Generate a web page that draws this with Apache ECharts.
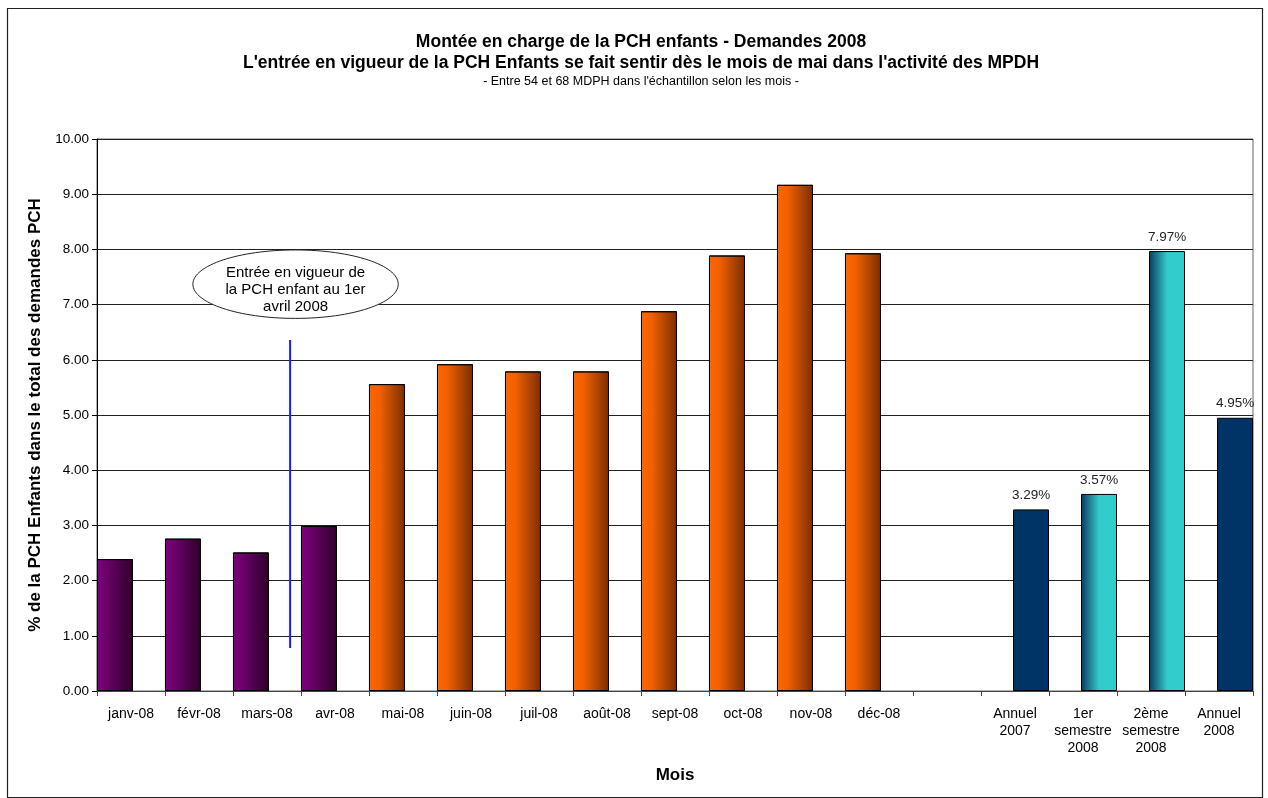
<!DOCTYPE html>
<html>
<head>
<meta charset="utf-8">
<script src="https://cdn.jsdelivr.net/npm/echarts@6/dist/echarts.min.js"></script>
<style>
html,body{margin:0;padding:0;background:#fff;}
#chart{width:1268px;height:798px;}
</style>
</head>
<body>
<div id="chart"></div>
<script>
// ---- data ----
var categories = ['janv-08','févr-08','mars-08','avr-08','mai-08','juin-08','juil-08','août-08','sept-08','oct-08','nov-08','déc-08','','Annuel\n2007','1er\nsemestre\n2008','2ème\nsemestre\n2008','Annuel\n2008'];
var monthlyValues = [2.39,2.76,2.51,2.99,5.56,5.92,5.79,5.79,6.88,7.89,9.17,7.93,null,null,null,null,null];
var summaryValues = [null,null,null,null,null,null,null,null,null,null,null,null,null,3.29,3.57,7.97,4.95];
var yTicks = [0,1,2,3,4,5,6,7,8,9,10];
var annotationText = 'Entrée en vigueur de\nla PCH enfant au 1er\navril 2008';

var FONT = 'Liberation Sans, Arial, sans-serif';

function hGrad(stops){
  return new echarts.graphic.LinearGradient(0,0,1,0,stops);
}
var purple = hGrad([{offset:0,color:'#800080'},{offset:1,color:'#2E0028'}]);
var orange = hGrad([{offset:0,color:'#FF6600'},{offset:0.3,color:'#F06000'},{offset:1,color:'#7A2E00'}]);
var navy = '#003366';
var teal = hGrad([{offset:0,color:'#0A3A5E'},{offset:0.5,color:'#33CCCC'},{offset:1,color:'#33CCCC'}]);

var monthlyData = monthlyValues.map(function(v,i){
  if(v===null) return '-';
  return {value:v,itemStyle:{color: i<4 ? purple : orange}};
});
var summaryData = summaryValues.map(function(v,i){
  if(v===null) return '-';
  var semester = (i===14 || i===15);
  return {value:v,itemStyle:{color: semester ? teal : navy}};
});

var chart = echarts.init(document.getElementById('chart'));
var option = {
  backgroundColor:'#fff',
  animation:false,
  title:[
    {text:'Montée en charge de la PCH enfants - Demandes 2008',left:636,top:28,textAlign:'center',
     textStyle:{fontFamily:FONT,fontSize:17.5,fontWeight:'bold',color:'#000'}},
    {text:"L'entrée en vigueur de la PCH Enfants se fait sentir dès le mois de mai dans l'activité des MPDH",left:636,top:49.5,textAlign:'center',
     textStyle:{fontFamily:FONT,fontSize:17.5,fontWeight:'bold',color:'#000'}},
    {text:"- Entre 54 et 68 MDPH dans l'échantillon selon les mois -",left:636,top:70,textAlign:'center',
     textStyle:{fontFamily:FONT,fontSize:12.5,fontWeight:'normal',color:'#000'}}
  ],
  grid:{left:97,right:15,top:139,bottom:107,show:true,borderColor:'#666',borderWidth:1,backgroundColor:'transparent'},
  xAxis:{
    type:'category',
    data:categories,
    name:'Mois',
    nameLocation:'middle',
    nameGap:76,
    nameTextStyle:{fontFamily:FONT,fontSize:17,fontWeight:'bold',color:'#000'},
    axisLine:{lineStyle:{color:'#444',width:1}},
    axisTick:{show:true,alignWithLabel:false,length:5,lineStyle:{color:'#444'}},
    axisLabel:{interval:0,fontFamily:FONT,fontSize:14,color:'#000',margin:15,lineHeight:17}
  },
  yAxis:{
    type:'value',
    min:0,max:10,interval:1,
    name:'% de la PCH Enfants dans le total des demandes PCH',
    nameLocation:'middle',
    nameGap:53,
    nameTextStyle:{fontFamily:FONT,fontSize:17,fontWeight:'bold',color:'#000'},
    axisLine:{show:true,lineStyle:{color:'#000',width:1}},
    axisTick:{show:true,length:5,lineStyle:{color:'#000'}},
    axisLabel:{fontFamily:FONT,fontSize:13.5,color:'#000',margin:8,formatter:function(v){return v.toFixed(2);}},
    splitLine:{show:true,lineStyle:{color:'#222',width:1}}
  },
  series:[
    {type:'bar',name:'mois',data:monthlyData,barWidth:36,barGap:'-11%',
     itemStyle:{borderColor:'#000',borderWidth:1}},
    {type:'bar',name:'synthese',data:summaryData,barWidth:36,barGap:'-11%',
     itemStyle:{borderColor:'#000',borderWidth:1},
     label:{show:true,position:'top',distance:7,fontFamily:FONT,fontSize:13.5,color:'#222',
       formatter:function(p){return p.value.toFixed(2)+'%';}}}
  ]
};
chart.setOption(option);

// annotation positioned from the axes' scales
function addAnnotation(){
  var pMars = chart.convertToPixel({xAxisIndex:0},'mars-08');
  var pAvr = chart.convertToPixel({xAxisIndex:0},'avr-08');
  var cw = pAvr - pMars;
  var lineX = pMars + 0.34*cw;
  var yTop = chart.convertToPixel({yAxisIndex:0},6.36);
  var yBot = chart.convertToPixel({yAxisIndex:0},0.78);
  var ellCx = pMars + 0.42*cw;
  var ellCy = chart.convertToPixel({yAxisIndex:0},7.37);
  var unit = chart.convertToPixel({yAxisIndex:0},0)-chart.convertToPixel({yAxisIndex:0},1);
  var rx = 1.51*cw, ry = 0.62*unit;
  chart.setOption({graphic:[
    {type:'rect',shape:{x:7.5,y:8.5,width:1255,height:789},style:{fill:'none',stroke:'#222',lineWidth:1.2},silent:true,z:0},
    {type:'line',shape:{x1:lineX,y1:yTop,x2:lineX,y2:yBot},style:{stroke:'#1a1aff',lineWidth:2},z:10},
    {type:'ellipse',shape:{cx:ellCx,cy:ellCy,rx:rx,ry:ry},style:{fill:'#fff',stroke:'#222',lineWidth:1},z:10},
    {type:'text',x:ellCx,y:ellCy+6,style:{text:annotationText,fontFamily:FONT,fontSize:15,fill:'#000',
      align:'center',verticalAlign:'middle',lineHeight:17},z:11}
  ]});
}
addAnnotation();
</script>
</body>
</html>
